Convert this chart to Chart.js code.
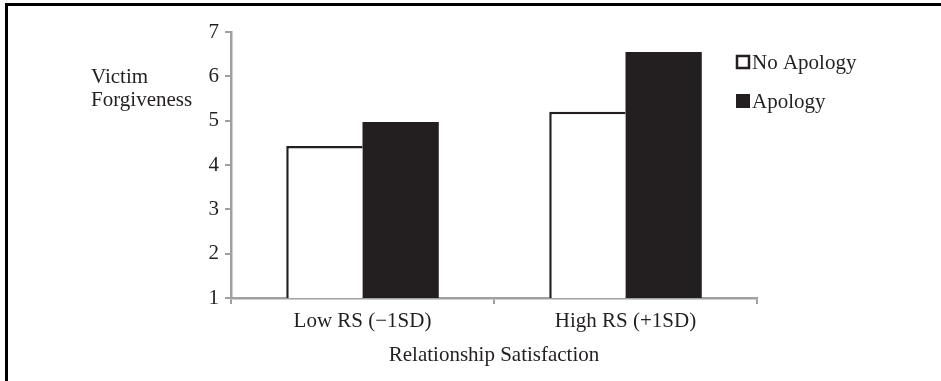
<!DOCTYPE html>
<html lang="en">
<head>
  <meta charset="UTF-8" />
  <title>Victim Forgiveness by Relationship Satisfaction</title>
  <script src="https://cdn.jsdelivr.net/npm/chart.js"></script>
  <style>
    body { margin: 0; padding: 0; background: #fff; overflow: hidden; }
    #wrap { position: relative; width: 941px; height: 381px; }
    #frame { position: absolute; left: 5px; top: 3px; width: 1000px; height: 500px;
             border-left: 3px solid #000; border-top: 3px solid #000; pointer-events: none; }
  </style>
</head>
<body>
<div id="wrap">
  <canvas id="chart" width="941" height="381"></canvas>
  <div id="frame"></div>
</div>
<script>
const categories = ['Low RS (\u22121SD)', 'High RS (+1SD)'];
const noApology = [4.43, 5.2];
const apology = [4.97, 6.55];
const seriesNames = ['No Apology', 'Apology'];
const yTitleLines = ['Victim', 'Forgiveness'];
const xTitle = 'Relationship Satisfaction';

const FONT = '"Liberation Serif", "Times New Roman", serif';
const axisGray = '#a0a0a0';

// legend and y title drawn by hand, they sit in odd places
const extras = {
  id: 'extras',
  afterDraw(chart) {
    const ctx = chart.ctx;
    ctx.save();
    ctx.font = '21px ' + FONT;
    ctx.fillStyle = '#231f20';
    ctx.textBaseline = 'middle';
    ctx.textAlign = 'left';
    ctx.fillText(yTitleLines[0], 91, 77);
    ctx.fillText(yTitleLines[1], 91, 100);

    chart.data.datasets.forEach((ds, i) => {
      const y = 62 + i * 39;
      if (i === 0) {
        ctx.fillStyle = '#fff';
        ctx.fillRect(737, y - 6, 12, 12);
        ctx.strokeStyle = '#231f20';
        ctx.lineWidth = 2.5;
        ctx.strokeRect(737, y - 6, 12, 12);
      } else {
        ctx.fillStyle = '#231f20';
        ctx.fillRect(736, y - 7, 14, 14);
      }
      ctx.fillStyle = '#231f20';
      ctx.fillText(ds.label, 752, y + 1);
    });
    ctx.restore();
  }
};

new Chart(document.getElementById('chart'), {
  type: 'bar',
  data: {
    labels: categories,
    datasets: [
      { label: seriesNames[0], data: noApology, backgroundColor: '#fff',
        borderColor: '#231f20', borderWidth: { top: 2.5, left: 2.5, right: 0, bottom: 0 } },
      { label: seriesNames[1], data: apology, backgroundColor: '#231f20',
        borderColor: '#231f20', borderWidth: 0 }
    ]
  },
  options: {
    responsive: false,
    animation: false,
    layout: { padding: { left: 0, right: 184, top: 32, bottom: 0 } },
    plugins: { legend: { display: false }, tooltip: { enabled: false } },
    datasets: { bar: { categoryPercentage: 0.58, barPercentage: 1.0 } },
    scales: {
      x: {
        afterFit: s => { s.height = 83; },
        border: { color: axisGray, width: 2.5 },
        grid: { drawOnChartArea: false, drawTicks: true, tickLength: 6, color: axisGray, lineWidth: 2 },
        ticks: { color: '#231f20', font: { family: FONT, size: 21 }, padding: 5 },
        title: { display: true, text: xTitle, color: '#231f20', font: { family: FONT, size: 21 }, padding: { top: 4, bottom: 13 } }
      },
      y: {
        min: 1, max: 7,
        afterFit: s => { s.width = 231; },
        border: { color: axisGray, width: 2.5 },
        grid: { drawOnChartArea: false, drawTicks: true, tickLength: 6, color: axisGray, lineWidth: 2 },
        ticks: { stepSize: 1, color: '#231f20', font: { family: FONT, size: 21 }, padding: 6 }
      }
    }
  },
  plugins: [extras]
});
</script>
</body>
</html>
